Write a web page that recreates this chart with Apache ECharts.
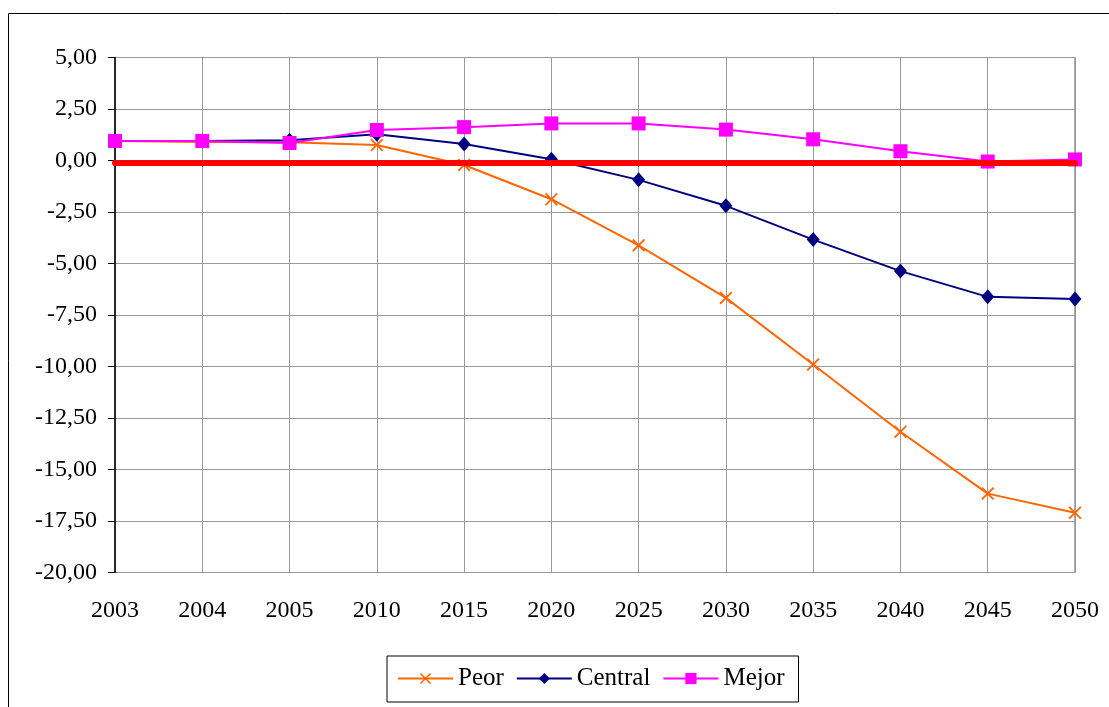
<!DOCTYPE html>
<html>
<head>
<meta charset="utf-8">
<script src="https://cdn.jsdelivr.net/npm/echarts@6/dist/echarts.min.js"></script>
<style>
html,body{margin:0;padding:0;background:#fff;}
#c{width:1109px;height:707px;}
</style>
</head>
<body>
<div id="c"></div>
<script>
const categories = ['2003','2004','2005','2010','2015','2020','2025','2030','2035','2040','2045','2050'];
const peor    = [0.95, 0.90, 0.88, 0.75, -0.22, -1.88, -4.12, -6.67, -9.90, -13.17, -16.17, -17.10];
const central = [0.95, 0.95, 0.98, 1.28, 0.80, 0.06, -0.94, -2.20, -3.84, -5.37, -6.62, -6.72];
const mejor   = [0.95, 0.95, 0.85, 1.48, 1.62, 1.80, 1.80, 1.50, 1.03, 0.45, -0.05, 0.05];
const referencia = [-0.12, -0.12, -0.12, -0.12, -0.12, -0.12, -0.12, -0.12, -0.12, -0.12, -0.12, -0.12];
const seriesNames = ['Peor', 'Central', 'Mejor'];

const FONT = 'Liberation Serif';
const crossPath = 'path://M0,1L1,0L5,4L9,0L10,1L6,5L10,9L9,10L5,6L1,10L0,9L4,5Z';

const chart = echarts.init(document.getElementById('c'), null, {renderer: 'canvas'});
chart.setOption({
  animation: false,
  backgroundColor: '#fff',
  graphic: [{
    type: 'rect', silent: true, z: -10,
    shape: {x: 8.5, y: 13.5, width: 1200, height: 800},
    style: {fill: 'none', stroke: '#000', lineWidth: 1}
  }],
  grid: {
    left: 115, right: 34, top: 57.5, bottom: 134.5,
    show: true, borderColor: '#555', borderWidth: 1, backgroundColor: 'transparent'
  },
  legend: {
    data: seriesNames,
    left: 387, top: 656,
    padding: [10, 14, 11, 10],
    borderColor: '#000', borderWidth: 1,
    itemWidth: 55, itemHeight: 14, itemGap: 12,
    textStyle: {fontFamily: FONT, fontSize: 25, color: '#000'}
  },
  xAxis: {
    type: 'category',
    data: categories,
    boundaryGap: false,
    axisLine: {lineStyle: {color: '#000', width: 1.5}},
    axisTick: {show: true, inside: false, length: 6, lineStyle: {color: '#000'}},
    axisLabel: {fontFamily: FONT, fontSize: 24, color: '#000', margin: 26},
    splitLine: {show: true, lineStyle: {color: '#999', width: 1}}
  },
  yAxis: {
    type: 'value',
    min: -20, max: 5, interval: 2.5,
    axisLine: {show: true, lineStyle: {color: '#000', width: 1.5}},
    axisTick: {show: true, inside: false, length: 7, lineStyle: {color: '#000'}},
    axisLabel: {
      fontFamily: FONT, fontSize: 24, color: '#000', margin: 18,
      formatter: v => v.toFixed(2).replace('.', ',')
    },
    splitLine: {show: true, lineStyle: {color: '#999', width: 1}}
  },
  series: [
    {
      name: 'Peor', type: 'line', data: peor,
      symbol: crossPath, symbolSize: 13,
      itemStyle: {color: '#FF6600'},
      lineStyle: {color: '#FF6600', width: 2}
    },
    {
      name: 'Central', type: 'line', data: central,
      symbol: 'diamond', symbolSize: [13, 15],
      itemStyle: {color: '#000080'},
      lineStyle: {color: '#000080', width: 2}
    },
    {
      name: 'Mejor', type: 'line', data: mejor,
      symbol: 'rect', symbolSize: 14,
      itemStyle: {color: '#FF00FF'},
      lineStyle: {color: '#FF00FF', width: 2}
    },
    {
      name: 'Referencia', type: 'line', data: referencia,
      symbol: 'none',
      lineStyle: {color: '#FF0000', width: 6, cap: 'round'},
      z: 5
    }
  ]
});
</script>
</body>
</html>
